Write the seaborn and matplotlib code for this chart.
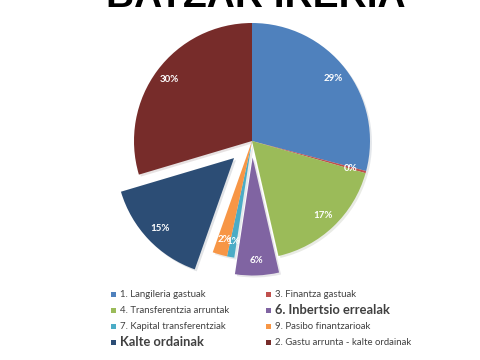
import matplotlib
matplotlib.use("Agg")
import matplotlib.pyplot as plt
from matplotlib.patches import Rectangle
import seaborn as sns

# -----------------------------
# Data
# -----------------------------
categories = [
    "1. Langileria gastuak",
    "3. Finantza gastuak",
    "4. Transferentzia arruntak",
    "6. Inbertsio errealak",
    "7. Kapital transferentziak",
    "9. Pasibo finantzarioak",
    "Kalte ordainak",
    "2. Gastu arrunta - kalte ordainak",
]
shares = [29.1, 0.3, 17.0, 6.0, 1.0, 2.0, 15.0, 29.6]
colors = ["#4F81BD", "#C0504D", "#9BBB59", "#8064A2",
          "#4BACC6", "#F79646", "#2C4D75", "#772C2A"]
bold_items = ["6. Inbertsio errealak", "Kalte ordainak"]
title = "BATZAR IRERIA"

# -----------------------------
# Style
# -----------------------------
sns.set_theme(style="white")
plt.rcParams["font.family"] = ["Lato", "DejaVu Sans"]

W, H = 480, 360
fig = plt.figure(figsize=(4.8, 3.6), dpi=100)

# pie centre / radius in pixels
cx, cy, r = 252, 141, 118
span = 1.3
side = 2 * span * r
ax = fig.add_axes([(cx - side / 2) / W, (H - cy - side / 2) / H, side / W, side / H])

explode = [0.14 if c == "6. Inbertsio errealak" else 0.21 if c == "Kalte ordainak" else 0
           for c in categories]

wedges, _, autotexts = ax.pie(
    shares,
    colors=colors,
    startangle=90,
    counterclock=False,
    explode=explode,
    autopct="%.0f%%",
    pctdistance=0.87,
    radius=1,
    wedgeprops=dict(linewidth=0),
    shadow=dict(ox=0.012, oy=-0.012, shade=0.5, alpha=0.12),
    textprops=dict(color="white", fontsize=7, fontweight="bold"),
)
ax.set_xlim(-span, span)
ax.set_ylim(-span, span)
ax.set_aspect("equal")
ax.axis("off")

# -----------------------------
# Title (cut at the top edge)
# -----------------------------
fig.text(256 / W, 1 - 7 / H, title, ha="center", va="baseline",
         fontsize=28, fontweight="bold", family=["Liberation Sans", "DejaVu Sans"],
         color="black")

# -----------------------------
# Legend (two columns, drawn by hand)
# -----------------------------
col_x = [111, 266]      # marker left edge, px
row_y = [294, 310, 326, 342]  # row centre, px
box = 5
for i, (name, col) in enumerate(zip(categories, colors)):
    c, rr = i % 2, i // 2
    x0, y0 = col_x[c], row_y[rr]
    fig.patches.append(Rectangle(((x0) / W, 1 - (y0 + box / 2) / H), box / W, box / H,
                                 transform=fig.transFigure, facecolor=col,
                                 edgecolor="none"))
    bold = name in bold_items
    fig.text((x0 + box + 4) / W, 1 - (y0 + 0.5) / H, name, ha="left", va="center",
             fontsize=9.3 if bold else 6.9, fontweight="bold" if bold else "normal",
             color="#404040")

fig.savefig("out.png", dpi=100)
